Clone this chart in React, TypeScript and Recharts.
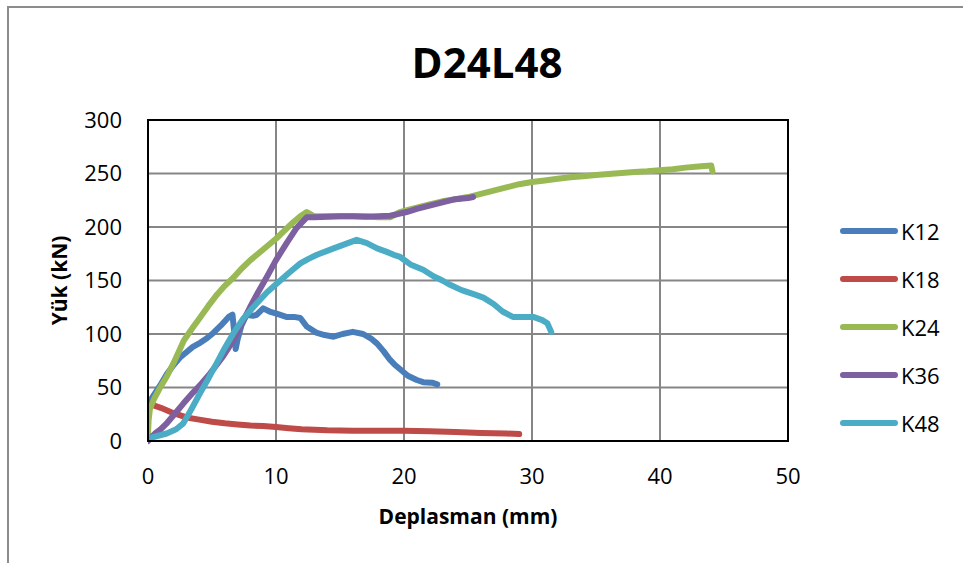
import { LineChart, Line, XAxis, YAxis, CartesianGrid, ReferenceArea } from "recharts";

// Deplasman (mm), Yük (kN) pairs
const k12: [number, number][] = [
  [0, 30], [0.3, 40], [1, 53], [1.5, 63], [2, 71], [2.5, 78], [3, 83], [3.5, 88], [4.1, 92],
  [4.6, 96], [5.1, 101], [5.7, 108], [6.3, 116], [6.6, 118], [6.75, 100], [6.85, 86], [7.0, 95],
  [7.3, 108], [7.7, 118], [8.2, 117], [8.5, 118], [9.0, 124], [9.5, 121], [10.05, 119],
  [10.8, 116], [11.4, 116], [11.9, 115], [12.4, 107], [13.2, 101], [13.8, 99], [14.5, 97.5],
  [15.2, 100], [16, 102], [16.8, 100], [17.4, 96], [17.9, 91], [18.4, 84], [18.9, 76],
  [19.3, 71], [19.7, 67], [20.3, 61], [21, 57], [21.5, 55], [22.2, 54.5], [22.6, 53],
];

const k18: [number, number][] = [
  [0, 35], [0.5, 33], [1, 31], [2, 26], [3, 22], [4, 20], [5, 18], [6, 16.5], [7, 15.5],
  [8, 14.5], [9, 14], [10, 13], [11, 12], [12, 11], [13, 10.5], [14, 10], [15, 9.8], [16, 9.5],
  [18, 9.5], [20, 9.5], [22, 9], [24, 8.5], [26, 7.5], [28, 7], [29, 6.5],
];

const k24: [number, number][] = [
  [0, 7], [0.05, 20], [0.15, 30], [0.5, 40], [1, 51], [1.5, 61], [2, 73], [2.5, 86], [2.8, 94],
  [3.5, 106], [4.1, 116], [4.7, 126], [5.4, 137], [6, 145], [6.7, 153], [7.3, 161], [8, 169],
  [8.6, 175], [9.3, 182], [10, 189], [10.6, 196], [11.3, 204], [11.9, 210], [12.4, 214],
  [13, 210], [14, 210], [15, 210], [16, 210], [17, 210], [18, 209], [18.9, 209], [19.7, 214],
  [20, 215], [21, 218], [22, 221], [23, 224], [24, 226], [25, 228], [26, 231], [27, 234],
  [28, 237], [29, 240], [30, 242], [31, 243.5], [32, 245], [33, 246.5], [34, 247.5],
  [35, 248.5], [36, 249.5], [37, 250.5], [38, 251.5], [39, 252], [40, 253], [41, 254],
  [42, 255.5], [43, 256.5], [44, 257.5], [44.1, 252],
];

const k36: [number, number][] = [
  [0, 0], [0.3, 4], [0.55, 7], [1, 11], [1.5, 17], [2, 24], [2.76, 35], [3.5, 45], [4.2, 54],
  [4.84, 63], [5.8, 78], [6.67, 94], [7.3, 109], [7.97, 125], [8.6, 139], [9.27, 153],
  [10, 169], [10.83, 185], [11.6, 199], [12.4, 209], [13, 209], [14, 209.5], [15, 210],
  [16, 210], [17, 209.5], [18, 210], [18.9, 210.5], [19.5, 212], [20.2, 214], [21, 217],
  [22, 220], [23, 223], [24, 226], [25, 227], [25.4, 228],
];

const k48: [number, number][] = [
  [0, 2.5], [0.5, 4], [1.46, 7], [2.2, 11], [2.76, 16.5], [3.4, 30], [4.06, 44.6], [4.7, 58],
  [5.36, 72.6], [6, 87], [6.67, 100.6], [7.45, 114.6], [8.5, 128.7], [9.3, 139], [10.05, 147],
  [11, 157], [11.9, 166], [12.5, 170], [13.2, 174], [14.5, 180], [15.4, 184], [16.3, 188],
  [17.1, 185], [17.9, 180], [18.6, 177], [19.2, 174], [19.7, 172], [20.5, 165], [21.5, 160],
  [22.3, 154], [23, 150], [23.6, 146], [24.5, 141], [25.5, 137], [26.2, 134], [27, 128],
  [27.7, 121], [28.5, 116], [29.3, 116], [30.1, 116], [30.8, 113], [31.2, 110], [31.5, 102],
];

const seriesNames = ["K12", "K18", "K24", "K36", "K48"];
const seriesColors = ["#4a7ebb", "#be4b48", "#98b954", "#7d60a0", "#4bacc6"];
const seriesPoints = [k12, k18, k24, k36, k48];

const xTicks = [0, 10, 20, 30, 40, 50];
const yTicks = [0, 50, 100, 150, 200, 250, 300];

const FONT = "'Open Sans', Calibri, sans-serif";

function LegendBox() {
  return (
    <div style={{ position: "absolute", left: 839, top: 207, fontFamily: FONT, fontSize: 22, color: "#000" }}>
      {seriesNames.map((name, i) => (
        <div key={name} style={{ display: "flex", alignItems: "center", height: 48 }}>
          <svg width={60} height={10}>
            <line x1={4} y1={5} x2={56} y2={5} stroke={seriesColors[i]} strokeWidth={6} strokeLinecap="round" />
          </svg>
          <span style={{ marginLeft: 2 }}>{name}</span>
        </div>
      ))}
    </div>
  );
}

export default function App() {
  const series = seriesPoints.map((pts) => pts.map(([x, y]) => ({ x, y })));

  return (
    <div style={{ position: "absolute", left: 0, top: 0, width: 963, height: 563, overflow: "hidden", background: "#fff" }}>
      <div
        style={{
          position: "absolute",
          left: 7,
          top: 6,
          width: 1000,
          height: 600,
          borderLeft: "2px solid #8c8c8c",
          borderTop: "2px solid #8c8c8c",
        }}
      />
      <div
        style={{
          position: "absolute",
          left: 0,
          width: 974,
          top: 33,
          textAlign: "center",
          fontFamily: FONT,
          fontWeight: 700,
          fontSize: 42,
          color: "#000",
        }}
      >
        D24L48
      </div>
      <div style={{ position: "absolute", left: 0, top: 0 }}>
        <LineChart width={963} height={563} margin={{ top: 120, right: 175, bottom: 92, left: 88 }}>
          <CartesianGrid stroke="#868686" strokeWidth={2} horizontalValues={yTicks} verticalValues={xTicks} />
          <XAxis
            type="number"
            dataKey="x"
            domain={[0, 50]}
            ticks={xTicks}
            allowDataOverflow
            height={30}
            axisLine={{ stroke: "#000", strokeWidth: 2 }}
            tickLine={false}
            tickSize={0}
            tickMargin={27}
            tick={{ fill: "#000", fontSize: 22, fontFamily: FONT }}
            label={{
              value: "Deplasman (mm)",
              position: "center",
              dy: 61,
              style: { fill: "#000", fontSize: 21, fontWeight: 700, fontFamily: FONT },
            }}
          />
          <YAxis
            type="number"
            domain={[0, 300]}
            ticks={yTicks}
            width={60}
            axisLine={{ stroke: "#000", strokeWidth: 2 }}
            tickLine={false}
            tickSize={0}
            tickMargin={26}
            tick={{ fill: "#000", fontSize: 22, fontFamily: FONT }}
            label={{
              value: "Yük (kN)",
              angle: -90,
              position: "center",
              dx: -58,
              style: { fill: "#000", fontSize: 21, fontWeight: 700, fontFamily: FONT, textAnchor: "middle" },
            }}
          />
          <ReferenceArea x1={0} x2={50} y1={0} y2={300} fill="none" stroke="#000" strokeWidth={2} ifOverflow="visible" />
          {series.map((data, i) => (
            <Line
              key={seriesNames[i]}
              data={data}
              dataKey="y"
              name={seriesNames[i]}
              type="linear"
              stroke={seriesColors[i]}
              strokeWidth={6}
              strokeLinecap="round"
              strokeLinejoin="round"
              dot={false}
              activeDot={false}
              isAnimationActive={false}
            />
          ))}
        </LineChart>
      </div>
      <LegendBox />
    </div>
  );
}
